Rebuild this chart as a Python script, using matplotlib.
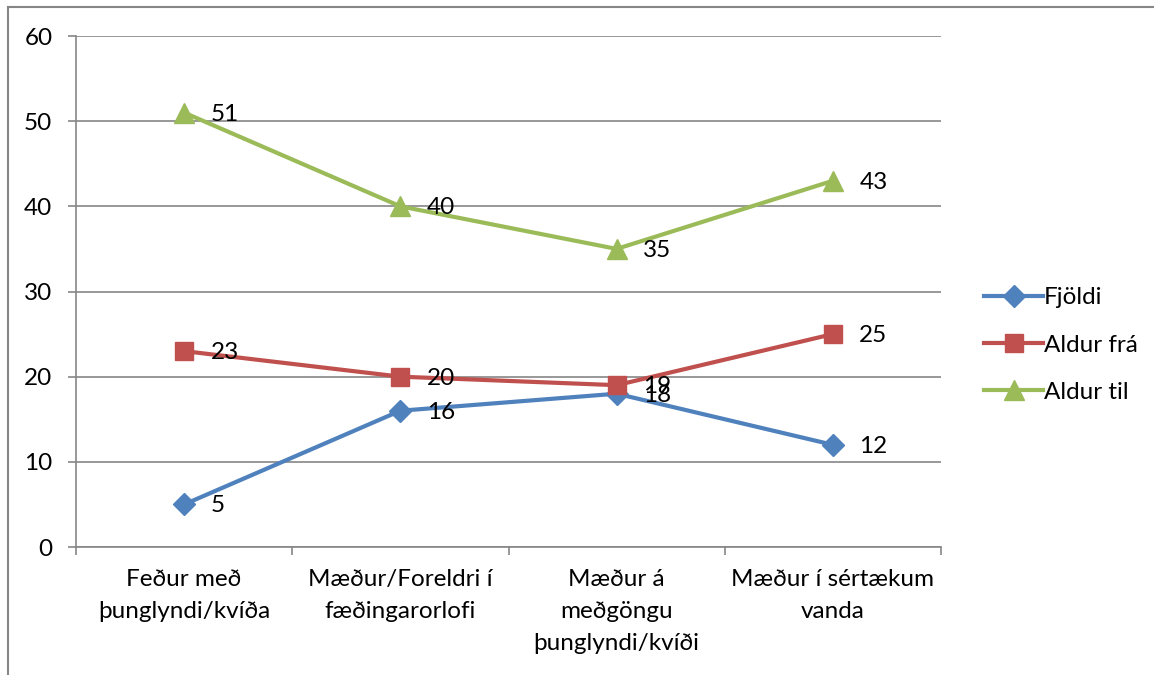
import matplotlib.pyplot as plt
from matplotlib.lines import Line2D

plt.rcParams['font.family'] = ['Lato', 'DejaVu Sans']

flokkar = ["Feður með\nþunglyndi/kvíða", "Mæður/Foreldri í\nfæðingarorlofi",
           "Mæður á\nmeðgöngu\nþunglyndi/kvíði", "Mæður í sértækum\nvanda"]
fjoldi = [5, 16, 18, 12]
aldur_fra = [23, 20, 19, 25]
aldur_til = [51, 40, 35, 43]

# litir eins og í Excel
c_blar = "#4F81BD"
c_raudur = "#C0504D"
c_graenn = "#9BBB59"
c_grar = "#868686"
fs = 17.5

fig = plt.figure(figsize=(11.54, 6.75), dpi=100)
ax = fig.add_axes([76 / 1154, 1 - 547 / 675, 865 / 1154, 511 / 675])

x = list(range(len(flokkar)))
ax.plot(x, fjoldi, color=c_blar, lw=3, marker="D", ms=11, label="Fjöldi")
ax.plot(x, aldur_fra, color=c_raudur, lw=3, marker="s", ms=13, label="Aldur frá")
ax.plot(x, aldur_til, color=c_graenn, lw=3, marker="^", ms=15, label="Aldur til")

for vals in (fjoldi, aldur_fra, aldur_til):
    for xi, v in zip(x, vals):
        ax.annotate(str(v), (xi, v), xytext=(19, -1), textcoords="offset points",
                    ha="left", va="center", fontsize=fs, color="black")

ax.set_xlim(-0.5, len(flokkar) - 0.5)
ax.set_ylim(0, 60)
ax.set_yticks(range(0, 61, 10))
ax.yaxis.grid(True, color=c_grar, lw=1.2)
ax.set_axisbelow(True)

ax.set_xticks(x)
ax.set_xticklabels(flokkar, fontsize=fs, linespacing=1.65)
ax.tick_params(axis="x", length=0, pad=16)
ax.set_xticks([i - 0.5 for i in range(len(flokkar) + 1)], minor=True)
ax.tick_params(axis="x", which="minor", length=6, color=c_grar, width=1.2)
ax.tick_params(axis="y", length=6, color=c_grar, width=1.2, pad=11, labelsize=fs)

for s in ("top", "right"):
    ax.spines[s].set_visible(False)
for s in ("left", "bottom"):
    ax.spines[s].set_color(c_grar)
    ax.spines[s].set_linewidth(1.2)

ax.legend(loc="center left", bbox_to_anchor=(1.025, 0.395), frameon=False,
          fontsize=fs, handlelength=2.4, handletextpad=0.05, labelspacing=1.08)

# rammi utan um myndina
fig.add_artist(Line2D([8 / 1154, 1], [1 - 7 / 675, 1 - 7 / 675], color=c_grar, lw=1.5))
fig.add_artist(Line2D([8 / 1154, 8 / 1154], [0, 1 - 7 / 675], color=c_grar, lw=1.5))

fig.savefig("out.png", dpi=100)
